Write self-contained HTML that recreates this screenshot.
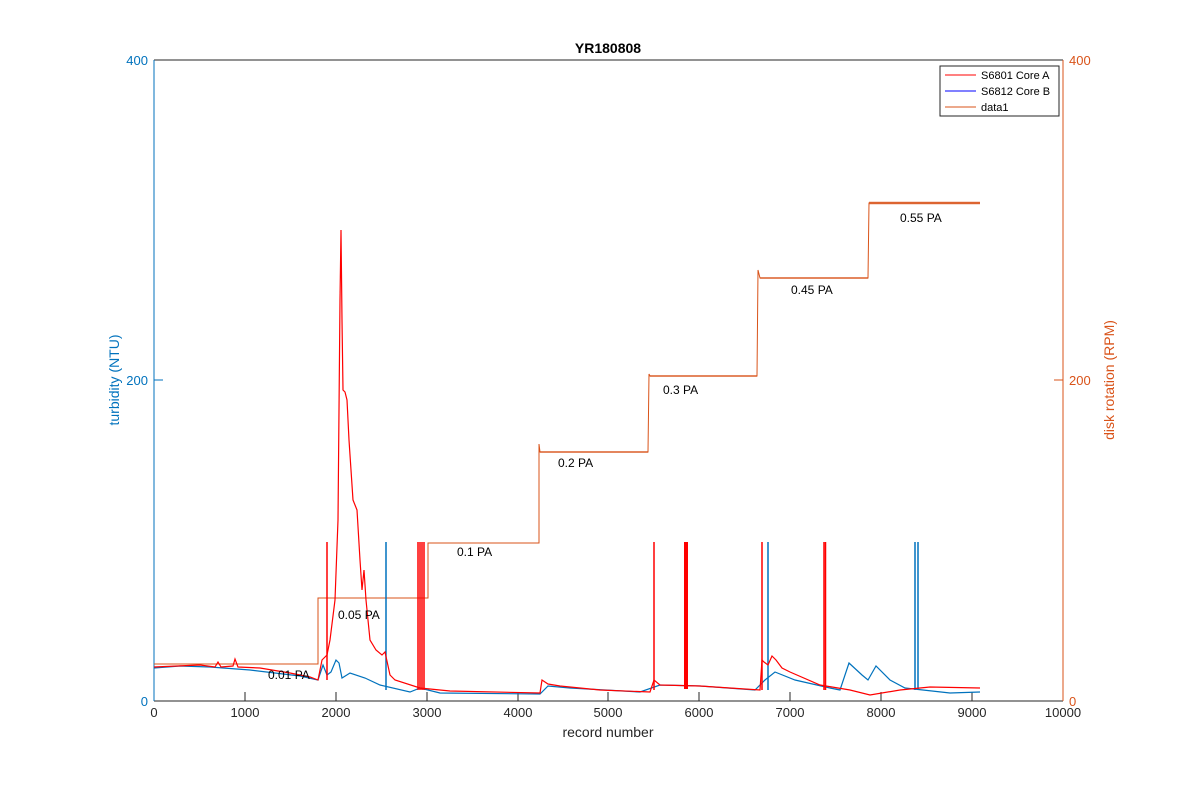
<!DOCTYPE html>
<html><head><meta charset="utf-8"><style>body{margin:0;background:#fff}svg{display:block}text{font-family:"Liberation Sans",sans-serif}</style></head><body>
<svg width="1181" height="787" xmlns="http://www.w3.org/2000/svg">
<rect width="1181" height="787" fill="#fff"/>
<line x1="154" y1="60" x2="1063" y2="60" stroke="#262626" stroke-width="1"/>
<line x1="154" y1="701" x2="1063" y2="701" stroke="#262626" stroke-width="1"/>
<line x1="154" y1="60" x2="154" y2="701" stroke="#0072bd" stroke-width="1"/>
<line x1="1063" y1="60" x2="1063" y2="701" stroke="#d95319" stroke-width="1"/>
<g stroke="#262626">
<line x1="245" y1="701" x2="245" y2="692"/><line x1="336" y1="701" x2="336" y2="692"/><line x1="427" y1="701" x2="427" y2="692"/><line x1="518" y1="701" x2="518" y2="692"/><line x1="608" y1="701" x2="608" y2="692"/><line x1="699" y1="701" x2="699" y2="692"/><line x1="790" y1="701" x2="790" y2="692"/><line x1="881" y1="701" x2="881" y2="692"/><line x1="972" y1="701" x2="972" y2="692"/>
</g>
<line x1="154" y1="380" x2="163" y2="380" stroke="#0072bd"/>
<line x1="1063" y1="380" x2="1054" y2="380" stroke="#d95319"/>
<g font-size="13" fill="#262626" text-anchor="middle">
<text x="154" y="717">0</text><text x="245" y="717">1000</text><text x="336" y="717">2000</text><text x="427" y="717">3000</text><text x="518" y="717">4000</text><text x="608" y="717">5000</text><text x="699" y="717">6000</text><text x="790" y="717">7000</text><text x="881" y="717">8000</text><text x="972" y="717">9000</text><text x="1063" y="717">10000</text>
<text x="608" y="737" font-size="14">record number</text>
<text x="608" y="53" font-size="14" font-weight="bold" fill="#000">YR180808</text>
</g>
<g font-size="13" fill="#0072bd" text-anchor="end">
<text x="148" y="706">0</text><text x="148" y="385">200</text><text x="148" y="65">400</text>
</g>
<g font-size="13" fill="#d95319">
<text x="1069" y="706">0</text><text x="1069" y="385">200</text><text x="1069" y="65">400</text>
</g>
<text transform="translate(119,380) rotate(-90)" font-size="14" fill="#0072bd" text-anchor="middle">turbidity (NTU)</text>
<text transform="translate(1114,380) rotate(-90)" font-size="14" fill="#d95319" text-anchor="middle">disk rotation (RPM)</text>
<polyline fill="none" stroke="#d95319" stroke-width="1" points="154,664 318,664 318,598 428,598 428,543 539,543 539,444 540,452 648,452 649,374 650,376 757,376 758,270 760,278 868,278 869,203 980,203"/>
<g stroke="#d95319" stroke-width="1.5" opacity="0.8">
<line x1="540" y1="452" x2="648" y2="452"/><line x1="650" y1="376" x2="757" y2="376"/><line x1="760" y1="278" x2="868" y2="278"/><line x1="869" y1="203" x2="980" y2="203" stroke-width="2.5"/>
</g>
<polyline fill="none" stroke="#0072bd" stroke-width="1.2" points="154,668 180,666 210,667 250,670 300,676 318,680 323,665 327,675 331,672 336,660 339,663 342,678 350,673 365,678 380,685 410,692 420,688 440,693 540,694 548,686 570,688 640,692 660,685 700,686 755,690 765,680 775,672 795,680 830,688 840,690 849,663 862,675 868,680 876,666 890,680 905,688 950,693 980,692"/>
<g stroke="#0072bd" stroke-width="1.5"><line x1="386" y1="542" x2="386" y2="690"/><line x1="768" y1="542" x2="768" y2="690"/><line x1="915" y1="542" x2="915" y2="690"/><line x1="918" y1="542" x2="918" y2="690"/></g>
<polyline fill="none" stroke="#ff0000" stroke-width="1.2" points="154,667 200,665 215,667 218,662 221,667 233,666 235,659 238,667 260,668 290,673 310,677 318,680 322,660 327,655 330,640 335,600 338,520 340,300 341,230 342,320 343,390 345,392 347,400 349,440 353,500 357,510 360,560 362,590 364,570 366,600 370,640 376,650 382,655 385,652 390,675 395,680 420,688 450,691 540,693 542,680 548,684 560,686 600,690 650,692 654,680 660,685 700,686 730,688 760,690 762,660 764,662 768,665 772,656 776,660 782,668 790,672 820,685 850,690 870,695 900,690 930,687 980,688"/>
<g stroke="#ff0000" stroke-width="1.5">
<line x1="327" y1="542" x2="327" y2="680"/>
<line x1="418" y1="542" x2="418" y2="690"/><line x1="420" y1="542" x2="420" y2="690"/><line x1="422" y1="542" x2="422" y2="690"/><line x1="424" y1="542" x2="424" y2="690"/>
<line x1="654" y1="542" x2="654" y2="690"/>
<rect x="684" y="542" width="4" height="147" fill="#ff0000" stroke="none"/>
<line x1="762" y1="542" x2="762" y2="690"/>
<line x1="824" y1="542" x2="824" y2="690"/><line x1="825.5" y1="542" x2="825.5" y2="690"/>
</g>
<g font-size="12" fill="#000">
<text x="268" y="679">0.01 PA</text><text x="338" y="619">0.05 PA</text><text x="457" y="556">0.1 PA</text><text x="558" y="467">0.2 PA</text><text x="663" y="394">0.3 PA</text><text x="791" y="294">0.45 PA</text><text x="900" y="222">0.55 PA</text>
</g>
<rect x="940" y="66" width="119" height="50" fill="#fff" stroke="#262626"/>
<line x1="945" y1="75" x2="976" y2="75" stroke="#ff0000"/><text x="981" y="79" font-size="11">S6801 Core A</text>
<line x1="945" y1="91" x2="976" y2="91" stroke="#0000ff"/><text x="981" y="95" font-size="11">S6812 Core B</text>
<line x1="945" y1="107" x2="976" y2="107" stroke="#d95319"/><text x="981" y="111" font-size="11">data1</text>
</svg>
</body></html>
